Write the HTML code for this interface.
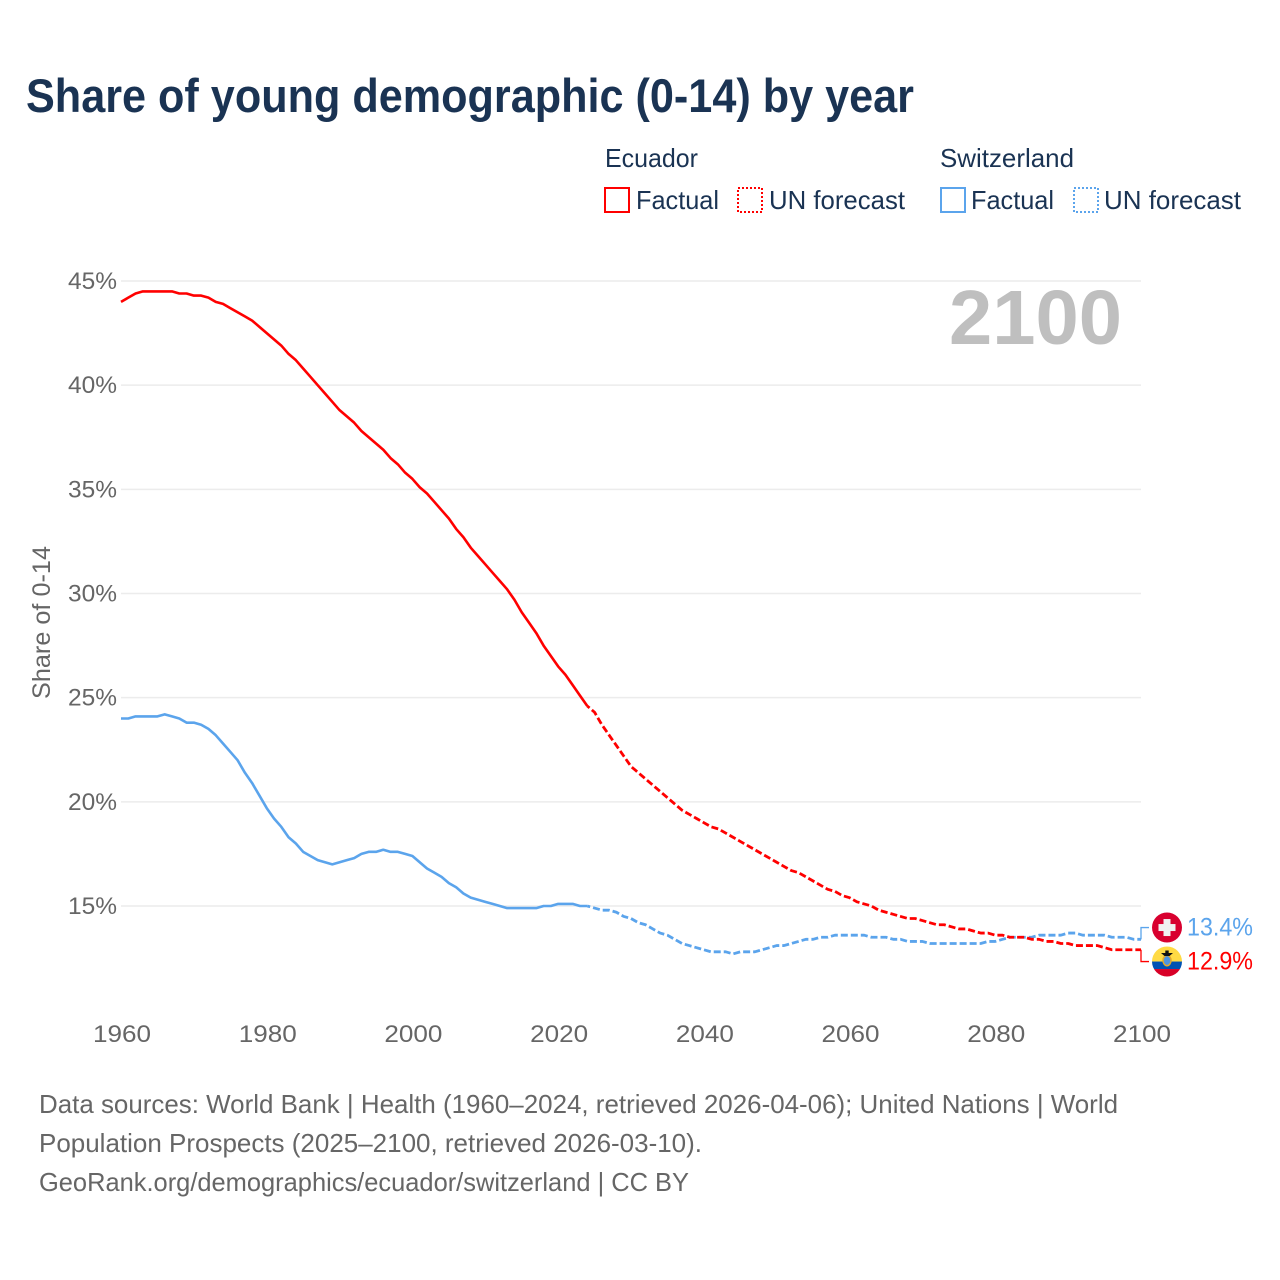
<!DOCTYPE html>
<html lang="en">
<head>
<meta charset="utf-8">
<title>Share of young demographic (0-14) by year</title>
<style>
html,body{margin:0;padding:0;background:#fff;}
svg{display:block;font-family:"Liberation Sans",sans-serif;}
</style>
</head>
<body>
<svg id="chart" xmlns="http://www.w3.org/2000/svg" width="1280" height="1280" viewBox="0 0 1280 1280">
  <rect x="0" y="0" width="1280" height="1280" fill="#ffffff"/>
  <text x="26" y="112" font-size="47" font-weight="700" fill="#1a3353" textLength="888" lengthAdjust="spacingAndGlyphs">Share of young demographic (0-14) by year</text>

  <g font-size="26" fill="#1a3353">
    <text x="605" y="167" textLength="93" lengthAdjust="spacingAndGlyphs">Ecuador</text>
    <rect x="605" y="188" width="24" height="24" fill="none" stroke="#ff0000" stroke-width="2"/>
    <text x="636" y="209" textLength="83" lengthAdjust="spacingAndGlyphs">Factual</text>
    <rect x="738" y="188" width="24" height="24" fill="none" stroke="#ff0000" stroke-width="2" stroke-dasharray="2 2"/>
    <text x="769" y="209" textLength="136" lengthAdjust="spacingAndGlyphs">UN forecast</text>
    <text x="940" y="167" textLength="134" lengthAdjust="spacingAndGlyphs">Switzerland</text>
    <rect x="941" y="188" width="24" height="24" fill="none" stroke="#5ba4ec" stroke-width="2"/>
    <text x="971" y="209" textLength="83" lengthAdjust="spacingAndGlyphs">Factual</text>
    <rect x="1074" y="188" width="24" height="24" fill="none" stroke="#5ba4ec" stroke-width="2" stroke-dasharray="2 2"/>
    <text x="1104" y="209" textLength="137" lengthAdjust="spacingAndGlyphs">UN forecast</text>
  </g>

  <g id="grid"></g>
  <g id="yticks"></g>
  <g id="xticks"></g>
  <text transform="translate(50 622.5) rotate(-90)" text-anchor="middle" font-size="25" fill="#666666" textLength="153" lengthAdjust="spacingAndGlyphs">Share of 0-14</text>
  <text x="949" y="344" font-size="77" font-weight="700" fill="#bfbfbf" textLength="173" lengthAdjust="spacingAndGlyphs">2100</text>
  <g id="series"></g>

  <g id="flag-switzerland">
    <circle cx="0" cy="0" r="15" fill="#d8002f"/>
    <rect x="-3.5" y="-8.5" width="7" height="17" fill="#f0f0f0"/>
    <rect x="-8.5" y="-3.5" width="17" height="7" fill="#f0f0f0"/>
  </g>
  <g id="flag-ecuador">
    <clipPath id="ecuador-clip"><circle cx="0" cy="0" r="15"/></clipPath>
    <g clip-path="url(#ecuador-clip)">
      <rect x="-15" y="-15" width="30" height="15" fill="#ffda44"/>
      <rect x="-15" y="0" width="30" height="7.5" fill="#0052b4"/>
      <rect x="-15" y="7.5" width="30" height="7.5" fill="#d80027"/>
    </g>
    <ellipse cx="0" cy="-1" rx="4" ry="5.2" fill="#4f94e0" stroke="#e3a92c" stroke-width="1.5"/>
    <path d="M-6,-8.5 L6,-8.5 L2.5,-5.5 L-2.5,-5.5 Z M-1.7,-11 H1.7 V-8 H-1.7 Z" fill="#111111"/>
  </g>
  <g id="endlabels"></g>

  <g font-size="26" fill="#666666">
    <text x="39" y="1113" textLength="1079" lengthAdjust="spacingAndGlyphs">Data sources: World Bank | Health (1960–2024, retrieved 2026-04-06); United Nations | World</text>
    <text x="39" y="1152" textLength="663" lengthAdjust="spacingAndGlyphs">Population Prospects (2025–2100, retrieved 2026-03-10).</text>
    <text x="39" y="1191" textLength="650" lengthAdjust="spacingAndGlyphs">GeoRank.org/demographics/ecuador/switzerland | CC BY</text>
  </g>
</svg>
<script>
const firstYear = 1960;
const lastFactualYear = 2025;
const xTickYears = [1960, 1980, 2000, 2020, 2040, 2060, 2080, 2100];
const yTickValues = [15, 20, 25, 30, 35, 40, 45];
const ecuadorValues = [
  44.0,44.2,44.4,44.5,44.5,44.5,44.5,44.5,44.4,44.4,
  44.3,44.3,44.2,44.0,43.9,43.7,43.5,43.3,43.1,42.8,
  42.5,42.2,41.9,41.5,41.2,40.8,40.4,40.0,39.6,39.2,
  38.8,38.5,38.2,37.8,37.5,37.2,36.9,36.5,36.2,35.8,
  35.5,35.1,34.8,34.4,34.0,33.6,33.1,32.7,32.2,31.8,
  31.4,31.0,30.6,30.2,29.7,29.1,28.6,28.1,27.5,27.0,
  26.5,26.1,25.6,25.1,24.6,24.3,23.7,23.2,22.7,22.2,
  21.7,21.4,21.1,20.8,20.5,20.2,19.9,19.6,19.4,19.2,
  19.0,18.8,18.7,18.5,18.3,18.1,17.9,17.7,17.5,17.3,
  17.1,16.9,16.7,16.6,16.4,16.2,16.0,15.8,15.7,15.5,
  15.4,15.2,15.1,15.0,14.8,14.7,14.6,14.5,14.4,14.4,
  14.3,14.2,14.1,14.1,14.0,13.9,13.9,13.8,13.7,13.7,
  13.6,13.6,13.5,13.5,13.5,13.4,13.4,13.3,13.3,13.2,
  13.2,13.1,13.1,13.1,13.1,13.0,12.9,12.9,12.9,12.9,12.9
];
const switzerlandValues = [
  24.0,24.0,24.1,24.1,24.1,24.1,24.2,24.1,24.0,23.8,
  23.8,23.7,23.5,23.2,22.8,22.4,22.0,21.4,20.9,20.3,
  19.7,19.2,18.8,18.3,18.0,17.6,17.4,17.2,17.1,17.0,
  17.1,17.2,17.3,17.5,17.6,17.6,17.7,17.6,17.6,17.5,
  17.4,17.1,16.8,16.6,16.4,16.1,15.9,15.6,15.4,15.3,
  15.2,15.1,15.0,14.9,14.9,14.9,14.9,14.9,15.0,15.0,
  15.1,15.1,15.1,15.0,15.0,14.9,14.8,14.8,14.7,14.5,
  14.4,14.2,14.1,13.9,13.7,13.6,13.4,13.2,13.1,13.0,
  12.9,12.8,12.8,12.8,12.7,12.8,12.8,12.8,12.9,13.0,
  13.1,13.1,13.2,13.3,13.4,13.4,13.5,13.5,13.6,13.6,
  13.6,13.6,13.6,13.5,13.5,13.5,13.4,13.4,13.3,13.3,
  13.3,13.2,13.2,13.2,13.2,13.2,13.2,13.2,13.2,13.3,
  13.3,13.4,13.5,13.5,13.5,13.5,13.6,13.6,13.6,13.6,
  13.7,13.7,13.6,13.6,13.6,13.6,13.5,13.5,13.5,13.4,13.4
];

const SVG_NS = 'http://www.w3.org/2000/svg';
const plotLeft = 121, plotRight = 1141;
const xScale = y => plotLeft + (y - 1960) * (plotRight - plotLeft) / 140;
const yScale = v => 906 - (v - 15) * (906 - 281) / 30;

function make(tag, attrs, parent) {
  const el = document.createElementNS(SVG_NS, tag);
  for (const k in attrs) el.setAttribute(k, attrs[k]);
  parent.appendChild(el);
  return el;
}

const gridGroup = document.getElementById('grid');
const yTickGroup = document.getElementById('yticks');
const xTickGroup = document.getElementById('xticks');
const seriesGroup = document.getElementById('series');
const endGroup = document.getElementById('endlabels');

yTickValues.forEach(v => {
  const line = make('line', {x1: plotLeft, x2: plotRight, y1: yScale(v), y2: yScale(v), stroke: '#ececec', 'stroke-width': 1.5}, gridGroup);
  
  
  const label = make('text', {x: 117, y: yScale(v) + 8, 'text-anchor': 'end', 'font-size': 24, fill: '#666666', textLength: 49, lengthAdjust: 'spacingAndGlyphs'}, yTickGroup);
  label.textContent = v + '%';
  
  
});

xTickYears.forEach(y => {
  const label = make('text', {x: xScale(y) + 1, y: 1042, 'text-anchor': 'middle', 'font-size': 24, fill: '#666666', textLength: 58, lengthAdjust: 'spacingAndGlyphs'}, xTickGroup);
  label.textContent = y;
  
  
});

function linePath(values, fromYear, toYear) {
  let d = '';
  values.forEach((v, i) => {
    const yr = firstYear + i;
    if (yr < fromYear || yr > toYear) return;
    d += (d ? 'L' : 'M') + xScale(yr).toFixed(2) + ',' + yScale(v).toFixed(2);
  });
  return d;
}

function drawSeries(key, values, color) {
  const lastYear = firstYear + values.length - 1;
  const solid = make('path', {d: linePath(values, firstYear, lastFactualYear - 1), fill: 'none', stroke: color, 'stroke-width': 2.6, 'stroke-linejoin': 'round'}, seriesGroup);
  
  
  const dashed = make('path', {d: linePath(values, lastFactualYear - 1, lastYear), fill: 'none', stroke: color, 'stroke-width': 2.8, 'stroke-dasharray': '7 3', 'stroke-dashoffset': -6, 'stroke-linejoin': 'round'}, seriesGroup);
  
  
}

drawSeries('switzerland', switzerlandValues, '#5ba4ec');
drawSeries('ecuador', ecuadorValues, '#ff0000');

function drawEnd(key, values, color, side) {
  const v = values[values.length - 1];
  const y = yScale(v);
  const labelY = (yScale(ecuadorValues[ecuadorValues.length - 1]) + yScale(switzerlandValues[switzerlandValues.length - 1])) / 2 + side * 17;
  const conn = make('path', {d: 'M' + plotRight + ',' + y + 'V' + labelY + 'H1149', fill: 'none', stroke: color, 'stroke-width': 1.3}, endGroup);
  
  
  document.getElementById('flag-' + key).setAttribute('transform', 'translate(1167 ' + labelY + ')');
  const label = make('text', {x: 1187, y: labelY + 8, 'font-size': 25, fill: color, textLength: 66, lengthAdjust: 'spacingAndGlyphs'}, endGroup);
  label.textContent = v.toFixed(1) + '%';
  
  
}

drawEnd('switzerland', switzerlandValues, '#5ba4ec', -1);
drawEnd('ecuador', ecuadorValues, '#ff0000', 1);
</script>
</body>
</html>
